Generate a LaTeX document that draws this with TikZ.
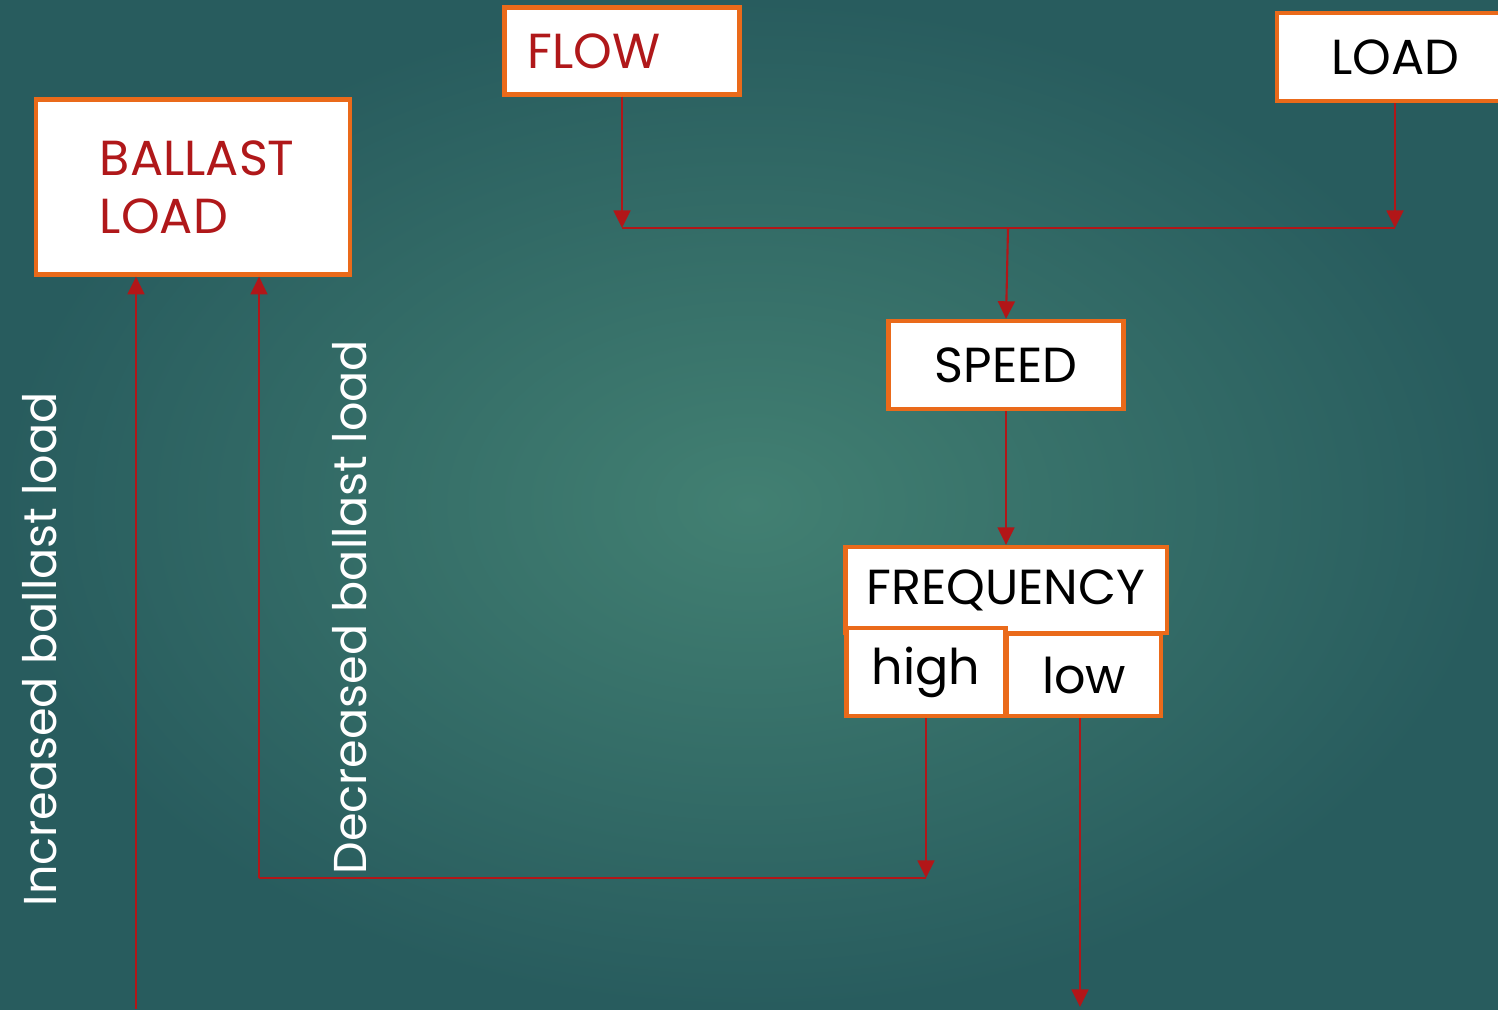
\documentclass[tikz,border=0pt]{standalone}
\usepackage{fontspec}
\setmainfont{Poppins}
\usetikzlibrary{arrows.meta}

\definecolor{boardin}{RGB}{66,128,114}
\definecolor{boardout}{RGB}{40,92,94}
\definecolor{frame}{RGB}{234,106,26}
\definecolor{wire}{RGB}{178,22,24}
\definecolor{ink}{RGB}{176,24,26}

\begin{document}
\begin{tikzpicture}[x=0.01cm, y=-0.01cm, inner sep=0pt]

    \tikzstyle{box}=[rectangle, fill=white, draw=frame, line width=1.2pt, text=black, font=\fontsize{14}{16.5}\selectfont]
    \tikzstyle{link}=[-{Triangle[length=5pt,width=4.8pt]}, draw=wire, line width=0.6pt]
    \tikzstyle{wire}=[draw=wire, line width=0.6pt]
    \tikzstyle{side}=[text=white, rotate=90, anchor=base west, font=\fontsize{13.1}{16}\selectfont]

    \useasboundingbox (0,0) rectangle (1498,1009);
    \shade[inner color=boardin, outer color=boardout] (0,0) rectangle (1498,1009);

    \node[box, minimum width=2.35cm, minimum height=0.87cm, text width=1.89cm, align=left, text=ink] (flow) at (622,51) {FLOW};
    \node[box, minimum width=2.36cm, minimum height=0.88cm] (load) at (1395,57) {LOAD};
    \node[box, minimum width=3.14cm, minimum height=1.75cm, text width=1.86cm, align=left, text=ink] (ballast) at (193,187) {BALLAST\\LOAD};
    \node[box, minimum width=2.35cm, minimum height=0.88cm] (speed) at (1006,365) {SPEED};
    \node[box, minimum width=3.21cm, minimum height=0.86cm] (freq) at (1006,590) {FREQUENCY};
    \node[box, minimum width=1.59cm, minimum height=0.88cm] (high) at (926,672) {high};
    \node[box, minimum width=1.54cm, minimum height=0.82cm] (low) at (1084,675) {low};

    \node[side] (up) at (56,907) {Increased ballast load};
    \node[side] (down) at (366,875) {Decreased ballast load};

    \coordinate (fj) at (622,228); \coordinate (lj) at (1395,228); \coordinate (sj) at (1008,228);
    \coordinate (hj) at (926,878); \coordinate (bj) at (259,878);
    \coordinate (lowend) at (1080,1007); \coordinate (upstart) at (136,1009);

    \draw[link] (flow.south) -- (fj);
    \draw[link] (load.south) -- (lj);
    \draw[wire] (fj) -- (lj);
    \draw[link] (sj) -- (speed.north);
    \draw[link] (speed.south) -- (freq.north);
    \draw[link] (high.south) -- (hj);
    \draw[wire] (hj) -- (bj);
    \draw[link] (bj) -- (bj |- ballast.south);
    \draw[link] (upstart) -- (upstart |- ballast.south);
    \draw[link] (low.south -| lowend) -- (lowend);
\end{tikzpicture}
\end{document}
